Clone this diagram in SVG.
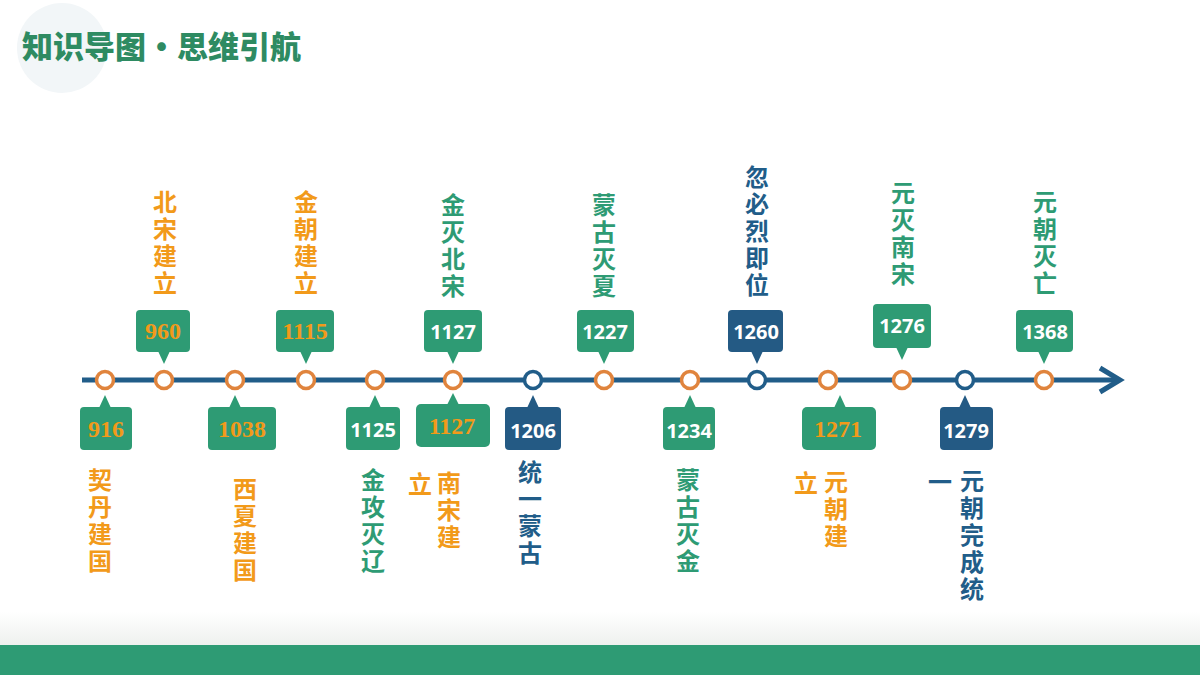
<svg xmlns="http://www.w3.org/2000/svg" width="1200" height="675" viewBox="0 0 1200 675">
<defs>
<linearGradient id="bg" x1="0" y1="0" x2="0" y2="1"><stop offset="0" stop-color="#ffffff"/><stop offset="1" stop-color="#eef0ee"/></linearGradient>
</defs>
<style>
.g{fill:#2e9b74}.b{fill:#245a84}
.c{fill:#fff;stroke:#e0843d;stroke-width:3.5}.cb{fill:#fff;stroke:#215d89;stroke-width:3.5}
.ns{font-family:"Open Sans","Liberation Sans",sans-serif;font-weight:bold;font-size:20px;fill:#fff;text-anchor:middle}
.sf{font-family:"Liberation Serif",serif;font-weight:bold;font-size:24px;fill:#f29a1a;text-anchor:middle}
.v{font-family:"Noto Sans CJK SC",sans-serif;font-weight:bold;font-size:24px;writing-mode:vertical-rl;letter-spacing:3px}
.h{font-family:"Noto Sans CJK SC",sans-serif;font-weight:bold;font-size:24px;text-anchor:middle}
.to{fill:#f29a1a}.tg{fill:#2e9b74}.tb{fill:#215d89}
</style>
<rect x="0" y="612" width="1200" height="34" fill="url(#bg)"/>
<rect x="0" y="645" width="1200" height="30" fill="#2e9b74"/>
<circle cx="62" cy="48" r="45" fill="#f2f6f8"/>
<text x="22" y="58" font-family="Noto Sans CJK SC,sans-serif" font-weight="900" font-size="31" fill="#2e8b62">知识导图·思维引航</text>
<g id="connectors">
<line x1="82" y1="380" x2="1116" y2="380" stroke="#215d89" stroke-width="5"/>
<path d="M1100,368 L1120,380 L1100,392" fill="none" stroke="#215d89" stroke-width="5"/>
</g>
<g id="dots">
<circle class="c" cx="105" cy="380" r="8.5"/><circle class="c" cx="164" cy="380" r="8.5"/><circle class="c" cx="235" cy="380" r="8.5"/><circle class="c" cx="306" cy="380" r="8.5"/><circle class="c" cx="375" cy="380" r="8.5"/><circle class="c" cx="453" cy="380" r="8.5"/><circle class="cb" cx="533" cy="380" r="8.5"/><circle class="c" cx="604" cy="380" r="8.5"/><circle class="c" cx="690" cy="380" r="8.5"/><circle class="cb" cx="757" cy="380" r="8.5"/><circle class="c" cx="828" cy="380" r="8.5"/><circle class="c" cx="902" cy="380" r="8.5"/><circle class="cb" cx="965" cy="380" r="8.5"/><circle class="c" cx="1044" cy="380" r="8.5"/>
</g>
<g id="n916"><rect class="g" x="80" y="407" width="52" height="43" rx="4"/><path class="g" d="M99,408 L105,395 L111,408Z"/><text class="sf" x="106" y="437">916</text>
<text class="v to" x="100" y="468">契丹建国</text></g>
<g id="n960"><rect class="g" x="136" y="310" width="54" height="42" rx="4"/><path class="g" d="M158,351 L164,364 L170,351Z"/><text class="sf" x="163" y="339">960</text>
<text class="v to" x="165" y="190">北宋建立</text></g>
<g id="n1038"><rect class="g" x="208" y="407" width="68" height="43" rx="4"/><path class="g" d="M229,408 L235,395 L241,408Z"/><text class="sf" x="242" y="437">1038</text>
<text class="v to" x="245" y="477" letter-spacing="2">西夏建国</text></g>
<g id="n1115"><rect class="g" x="276" y="310" width="58" height="42" rx="4"/><path class="g" d="M300,351 L306,364 L312,351Z"/><text class="sf" x="305" y="339">1115</text>
<text class="v to" x="306" y="190">金朝建立</text></g>
<g id="n1125"><rect class="g" x="346" y="407" width="54" height="43" rx="4"/><path class="g" d="M369,408 L375,395 L381,408Z"/><text class="ns" x="373" y="437">1125</text>
<text class="v tg" x="373" y="468" letter-spacing="2">金攻灭辽</text></g>
<g id="n1127a"><rect class="g" x="424" y="310" width="58" height="42" rx="4"/><path class="g" d="M447,351 L453,364 L459,351Z"/><text class="ns" x="453" y="339">1127</text>
<text class="v tg" x="453" y="193">金灭北宋</text></g>
<g id="n1127b"><rect class="g" x="416" y="404" width="74" height="43" rx="5"/><path class="g" d="M447,405 L453,393 L459,405Z"/><text class="sf" x="452" y="434">1127</text>
<text class="h to" x="420" y="493">立</text><text class="v to" x="449" y="471" letter-spacing="2">南宋建</text></g>
<g id="n1206"><rect class="b" x="505" y="407" width="56" height="43" rx="4"/><path class="b" d="M527,408 L533,395 L539,408Z"/><text class="ns" x="533" y="438">1206</text>
<text class="v tb" x="530" y="460" letter-spacing="5">统一蒙古</text></g>
<g id="n1227"><rect class="g" x="577" y="310" width="57" height="42" rx="4"/><path class="g" d="M598,351 L604,364 L610,351Z"/><text class="ns" x="605" y="339">1227</text>
<text class="v tg" x="604" y="193">蒙古灭夏</text></g>
<g id="n1234"><rect class="g" x="663" y="407" width="52" height="43" rx="4"/><path class="g" d="M684,408 L690,395 L696,408Z"/><text class="ns" x="689" y="438">1234</text>
<text class="v tg" x="688" y="468" font-size="28" letter-spacing="0">蒙古灭金</text></g>
<g id="n1260"><rect class="b" x="728" y="310" width="55" height="42" rx="4"/><path class="b" d="M751,351 L757,364 L763,351Z"/><text class="ns" x="756" y="339">1260</text>
<text class="v tb" x="757" y="165">忽必烈即位</text></g>
<g id="n1271"><rect class="g" x="802" y="407" width="74" height="43" rx="5"/><path class="g" d="M834,408 L840,395 L846,408Z"/><text class="sf" x="838" y="437">1271</text>
<text class="h to" x="806" y="492">立</text><text class="v to" x="836" y="470" letter-spacing="1">元朝建</text></g>
<g id="n1276"><rect class="g" x="873" y="304" width="58" height="44" rx="4"/><path class="g" d="M896,347 L902,360 L908,347Z"/><text class="ns" x="902" y="333">1276</text>
<text class="v tg" x="903" y="181" letter-spacing="2">元灭南宋</text></g>
<g id="n1279"><rect class="b" x="940" y="407" width="53" height="43" rx="4"/><path class="b" d="M959,408 L965,395 L971,408Z"/><text class="ns" x="966" y="438">1279</text>
<text class="h tb" x="940" y="491">一</text><text class="v tb" x="972" y="469">元朝完成统</text></g>
<g id="n1368"><rect class="g" x="1016" y="310" width="57" height="42" rx="4"/><path class="g" d="M1038,351 L1044,364 L1050,351Z"/><text class="ns" x="1045" y="339">1368</text>
<text class="v tg" x="1045" y="190">元朝灭亡</text></g>
</svg>
